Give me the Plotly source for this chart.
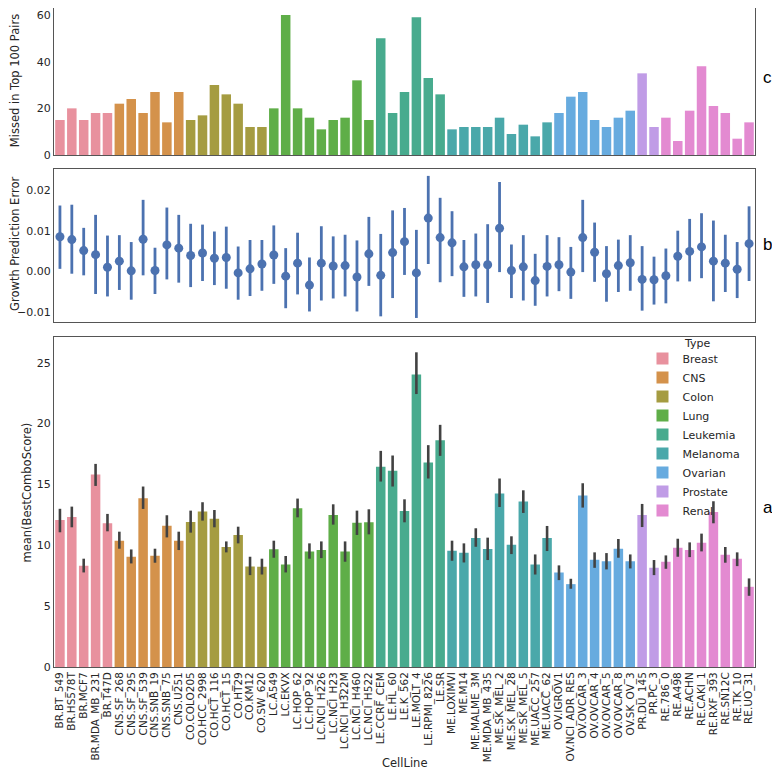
import plotly.graph_objects as go

cell_lines = ["BR.BT_549", "BR.HS578T", "BR.MCF7", "BR.MDA_MB_231", "BR.T47D",
              "CNS.SF_268", "CNS.SF_295", "CNS.SF_539", "CNS.SNB_19", "CNS.SNB_75", "CNS.U251",
              "CO.COLO205", "CO.HCC_2998", "CO.HCT_116", "CO.HCT_15", "CO.HT29", "CO.KM12", "CO.SW_620",
              "LC.A549", "LC.EKVX", "LC.HOP_62", "LC.HOP_92", "LC.NCI_H226", "LC.NCI_H23",
              "LC.NCI_H322M", "LC.NCI_H460", "LC.NCI_H522",
              "LE.CCRF_CEM", "LE.HL_60", "LE.K_562", "LE.MOLT_4", "LE.RPMI_8226", "LE.SR",
              "ME.LOXIMVI", "ME.M14", "ME.MALME_3M", "ME.MDA_MB_435", "ME.SK_MEL_2", "ME.SK_MEL_28",
              "ME.SK_MEL_5", "ME.UACC_257", "ME.UACC_62",
              "OV.IGROV1", "OV.NCI_ADR_RES", "OV.OVCAR_3", "OV.OVCAR_4", "OV.OVCAR_5", "OV.OVCAR_8",
              "OV.SK_OV_3", "PR.DU_145", "PR.PC_3",
              "RE.786_0", "RE.A498", "RE.ACHN", "RE.CAKI_1", "RE.RXF_393", "RE.SN12C", "RE.TK_10", "RE.UO_31"]

type_names = ["Breast", "CNS", "Colon", "Lung", "Leukemia", "Melanoma", "Ovarian", "Prostate", "Renal"]
type_prefix = ["BR", "CNS", "CO", "LC", "LE", "ME", "OV", "PR", "RE"]
type_colors = ["#e8919e", "#d4924b", "#a59c41", "#5fae48", "#48ab8e", "#4aa8aa", "#67abdf", "#c09ce6", "#e38ad1"]

# panel c: missed in top 100 pairs
missed_top100 = [15, 20, 15, 18, 18,
                 22, 24, 18, 27, 14, 27,
                 15, 17, 30, 26, 22, 12, 12,
                 20, 60, 20, 16, 11, 15, 16, 32, 15,
                 50, 18, 27, 59, 33, 26,
                 11, 12, 12, 12, 16, 9, 13, 8, 14,
                 18, 25, 27, 15, 12, 16, 19,
                 35, 12,
                 16, 6, 19, 38, 21, 18, 7, 14]

# panel b: growth prediction error (mean and CI bounds)
growth_mean = [0.0085, 0.0078, 0.0051, 0.0041, 0.0010,
               0.0025, 0.0001, 0.0079, 0.0002, 0.0065, 0.0057,
               0.0039, 0.0045, 0.0032, 0.0034, -0.0004, 0.0006, 0.0018,
               0.0040, -0.0012, 0.0020, -0.0034, 0.0020, 0.0013, 0.0014, -0.0014, 0.0043,
               -0.0010, 0.0046, 0.0073, -0.0004, 0.0131, 0.0083,
               0.0070, 0.0011, 0.0016, 0.0016, 0.0106, 0.0002, 0.0011, -0.0023, 0.0012,
               0.0016, -0.0002, 0.0083, 0.0047, -0.0006, 0.0014, 0.0021,
               -0.0020, -0.0021,
               -0.0011, 0.0037, 0.0049, 0.0060, 0.0025, 0.0020, 0.0005, 0.0068]
growth_hi = [0.0162, 0.0164, 0.0107, 0.0139, 0.0088,
             0.0089, 0.0072, 0.0176, 0.0058, 0.0157, 0.0139,
             0.0117, 0.0115, 0.0098, 0.0110, 0.0061, 0.0077, 0.0077,
             0.0113, 0.0057, 0.0095, 0.0034, 0.0111, 0.0086, 0.0090, 0.0076, 0.0134,
             0.0092, 0.0150, 0.0156, 0.0102, 0.0235, 0.0181,
             0.0148, 0.0077, 0.0093, 0.0116, 0.0220, 0.0066, 0.0089, 0.0043, 0.0089,
             0.0084, 0.0060, 0.0176, 0.0120, 0.0062, 0.0078, 0.0089,
             0.0062, 0.0036,
             0.0056, 0.0100, 0.0129, 0.0143, 0.0125, 0.0090, 0.0072, 0.0160]
growth_lo = [0.0006, -0.0006, -0.0010, -0.0056, -0.0062,
             -0.0046, -0.0070, -0.0010, -0.0056, -0.0020, -0.0028,
             -0.0039, -0.0024, -0.0034, -0.0043, -0.0070, -0.0061, -0.0048,
             -0.0031, -0.0091, -0.0057, -0.0099, -0.0072, -0.0067, -0.0062, -0.0099, -0.0036,
             -0.0111, -0.0066, -0.0009, -0.0115, 0.0018, -0.0027,
             -0.0012, -0.0063, -0.0062, -0.0078, -0.0002, -0.0066, -0.0072, -0.0085, -0.0062,
             -0.0049, -0.0068, -0.0002, -0.0026, -0.0075, -0.0051, -0.0048,
             -0.0097, -0.0082,
             -0.0079, -0.0025, -0.0025, -0.0017, -0.0074, -0.0051, -0.0066, -0.0024]

# panel a: mean(BestComboScore) and CI bounds
combo_mean = [12.08, 12.33, 8.32, 15.82, 11.81,
              10.38, 9.06, 13.87, 9.14, 11.61, 10.38,
              11.92, 12.77, 12.19, 9.86, 10.85, 8.26, 8.24,
              9.67, 8.43, 13.04, 9.50, 9.61, 12.49, 9.50, 11.86, 11.89,
              16.45, 16.12, 12.82, 24.03, 16.80, 18.64,
              9.55, 9.39, 10.60, 9.69, 14.25, 10.05, 13.59, 8.43, 10.60,
              7.77, 6.81, 14.09, 8.81, 8.68, 9.72, 8.68,
              12.49, 8.15,
              8.65, 9.80, 9.61, 10.21, 12.74, 9.23, 8.90, 6.59]
combo_hi = [13.00, 13.18, 8.90, 16.69, 12.58,
            11.12, 9.66, 14.83, 9.72, 12.47, 11.12,
            12.85, 13.54, 12.90, 10.32, 11.53, 9.06, 8.90,
            10.38, 9.12, 13.84, 10.16, 10.32, 13.37, 10.32, 12.85, 12.96,
            17.76, 17.38, 13.78, 25.86, 18.23, 19.90,
            10.38, 10.16, 11.40, 10.63, 15.49, 10.74, 14.52, 9.25, 11.59,
            8.35, 7.25, 15.10, 9.42, 9.36, 10.52, 9.25,
            13.40, 8.79,
            9.17, 10.54, 10.24, 10.96, 13.62, 9.86, 9.42, 7.28]
combo_lo = [11.07, 11.48, 7.77, 14.88, 11.15,
            9.72, 8.51, 12.99, 8.57, 10.65, 9.61,
            11.04, 12.03, 11.48, 9.42, 10.16, 7.55, 7.60,
            8.98, 7.77, 12.30, 8.90, 8.95, 11.70, 8.65, 10.85, 10.90,
            15.24, 14.83, 11.89, 22.43, 15.49, 17.35,
            8.73, 8.59, 9.88, 8.79, 13.15, 9.28, 12.66, 7.60, 9.53,
            7.14, 6.43, 13.10, 8.15, 8.02, 8.98, 8.10,
            11.50, 7.55,
            8.07, 9.06, 9.03, 9.50, 11.81, 8.57, 8.29, 5.85]

FONT = "DejaVu Sans"
TXT = "#262626"
POINT_BLUE = "#4c72b0"

fig = go.Figure()

for tname, pre, col in zip(type_names, type_prefix, type_colors):
    idx = [i for i, c in enumerate(cell_lines) if c.split(".")[0] == pre]
    xs = [cell_lines[i] for i in idx]
    # panel a
    fig.add_trace(go.Bar(
        x=xs, y=[combo_mean[i] for i in idx], name=tname, marker_color=col,
        marker_line_width=0, legendgroup=tname, showlegend=True,
        error_y=dict(type="data", symmetric=False,
                     array=[combo_hi[i] - combo_mean[i] for i in idx],
                     arrayminus=[combo_mean[i] - combo_lo[i] for i in idx],
                     color="#424242", thickness=2.6, width=0),
        xaxis="x", yaxis="y"))
    # panel c
    fig.add_trace(go.Bar(
        x=xs, y=[missed_top100[i] for i in idx], name=tname, marker_color=col,
        marker_line_width=0, legendgroup=tname, showlegend=False,
        xaxis="x3", yaxis="y3"))

# panel b
fig.add_trace(go.Scatter(
    x=cell_lines, y=growth_mean, mode="markers", showlegend=False,
    marker=dict(color=POINT_BLUE, size=9),
    error_y=dict(type="data", symmetric=False,
                 array=[h - m for h, m in zip(growth_hi, growth_mean)],
                 arrayminus=[m - l for m, l in zip(growth_mean, growth_lo)],
                 color=POINT_BLUE, thickness=2.8, width=0),
    xaxis="x2", yaxis="y2"))

axis_common = dict(showline=True, linecolor="#555555", linewidth=1, mirror=True,
                   showgrid=False, zeroline=False, ticks="",
                   tickfont=dict(family=FONT, size=11, color=TXT))
xrange = [-0.5, len(cell_lines) - 0.5]

fig.update_layout(
    width=772, height=772,
    margin=dict(l=46, r=25, t=0, b=113),
    paper_bgcolor="white", plot_bgcolor="white",
    barmode="overlay", bargap=0.2,
    font=dict(family=FONT, color=TXT),
    xaxis=dict(axis_common, domain=[0, 1], anchor="y", type="category",
               categoryorder="array", categoryarray=cell_lines, range=xrange,
               tickmode="array", tickvals=cell_lines, ticktext=cell_lines,
               tickangle=-90, tickfont=dict(family=FONT, size=10.5, color=TXT)),
    yaxis=dict(axis_common, domain=[0, 0.5008], range=[0, 27.12], dtick=5),
    xaxis2=dict(axis_common, domain=[0, 1], anchor="y2", type="category", matches="x",
                categoryorder="array", categoryarray=cell_lines, range=xrange,
                showticklabels=False),
    yaxis2=dict(axis_common, domain=[0.5235, 0.7557], range=[-0.0125, 0.0252], dtick=0.01,
                tickformat=".2f"),
    xaxis3=dict(axis_common, domain=[0, 1], anchor="y3", type="category", matches="x",
                categoryorder="array", categoryarray=cell_lines, range=xrange,
                showticklabels=False),
    yaxis3=dict(axis_common, domain=[0.7769, 1.0], range=[0, 63], dtick=20),
    legend=dict(x=0.8395, y=0.490, xanchor="left", yanchor="top",
                bgcolor="rgba(255,255,255,0)", borderwidth=0,
                font=dict(family=FONT, size=11, color=TXT),
                tracegroupgap=0),
)

title_font = dict(family=FONT, size=11.5, color=TXT)
# axis titles
fig.add_annotation(text="Missed in Top 100 Pairs", xref="paper", yref="paper",
                   x=-0.0556, y=0.889, textangle=-90, showarrow=False,
                   xanchor="center", yanchor="middle", font=title_font)
fig.add_annotation(text="Growth Prediction Error", xref="paper", yref="paper",
                   x=-0.0556, y=0.642, textangle=-90, showarrow=False,
                   xanchor="center", yanchor="middle", font=title_font)
fig.add_annotation(text="mean(BestComboScore)", xref="paper", yref="paper",
                   x=-0.0378, y=0.264, textangle=-90, showarrow=False,
                   xanchor="center", yanchor="middle", font=title_font)
fig.add_annotation(text="CellLine", xref="paper", yref="paper",
                   x=0.5, y=-0.1457, showarrow=False,
                   xanchor="center", yanchor="middle", font=title_font)
fig.add_annotation(text="Type", xref="paper", yref="paper",
                   x=0.896, y=0.4905, showarrow=False,
                   xanchor="left", yanchor="middle", font=dict(family=FONT, size=11, color=TXT))

for letter, yy in [("c", 0.8938), ("b", 0.6404), ("a", 0.2413)]:
    fig.add_annotation(text=letter, xref="paper", yref="paper", x=1.0185, y=yy,
                       xanchor="center", yanchor="middle", showarrow=False,
                       font=dict(family="Liberation Sans", size=17, color="black"))

fig.write_html("out.html")
